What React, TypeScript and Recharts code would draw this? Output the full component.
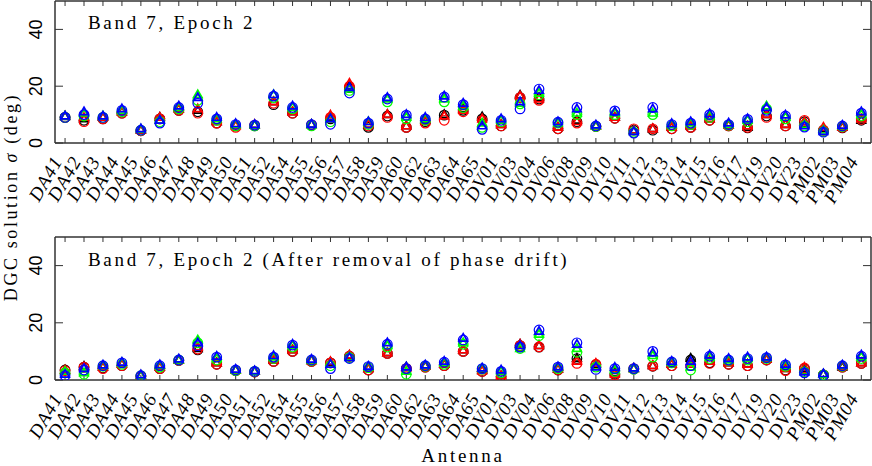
import React from 'react';
import { ScatterChart, Scatter, XAxis, YAxis } from 'recharts';

const antennas = [
  'DA41', 'DA42', 'DA43', 'DA44', 'DA45', 'DA46', 'DA47', 'DA48', 'DA49', 'DA50', 'DA51',
  'DA52', 'DA54', 'DA55', 'DA56', 'DA57', 'DA58', 'DA59', 'DA60', 'DA62', 'DA63', 'DA64',
  'DA65', 'DV01', 'DV03', 'DV04', 'DV06', 'DV08', 'DV09', 'DV10', 'DV11', 'DV12', 'DV13',
  'DV14', 'DV15', 'DV16', 'DV17', 'DV19', 'DV20', 'DV23', 'PM02', 'PM03', 'PM04',
];
const yTicks = [0, 20, 40];

// panel 1: Band 7, Epoch 2
const blueTri1 = [9.5, 11, 9.5, 12, 5, 8, 13, 16, 9, 6.8, 6.5, 17, 13, 6.6, 8.5, 19.5, 7.5, 16, 10, 9, 16.5, 14, 6, 8.5, 14.5, 18.5, 7.5, 12, 6.3, 11, 4, 12, 6.8, 7.5, 10.3, 7, 8.5, 12.5, 9.8, 6, 4, 6.2, 11];
const blueCirc1 = [9, 10, 9, 11.5, 4.5, 7, 12.5, 14, 8.5, 6.5, 6.3, 16.5, 12.5, 6.5, 6.6, 17.6, 7, 15.5, 9.8, 8.5, 16.2, 13.5, 4.8, 8, 12, 19, 7.3, 12.5, 6, 11.3, 3.5, 12.5, 6.5, 7, 10, 6.5, 8.3, 11.5, 9.5, 5.6, 3.8, 6, 10.5];
const greenTri1 = [9.5, 10.5, 9.5, 11.5, 4.8, 8, 12.5, 17, 8.5, 6.5, 6.3, 17, 12.5, 6.5, 8.5, 19, 7.5, 15.5, 9, 8.5, 15.5, 13, 7, 8, 14, 17.5, 7, 10.5, 6, 10.5, 4, 10.5, 6.5, 7, 9.5, 6.5, 8, 13, 9, 6.5, 4.5, 6, 10];
const greenCirc1 = [9, 9.5, 9, 11, 4.5, 7.5, 12, 15, 8, 6, 6, 16, 12, 6, 7.5, 18.5, 6.5, 14.5, 8.5, 8, 14.5, 12.5, 5.5, 7.5, 13.8, 17, 7, 10, 5.8, 10, 3.8, 10, 6, 6.5, 9, 6.3, 7.5, 12, 8.5, 6, 4, 5.8, 9.5];
const redTri1 = [9.5, 9, 9, 11, 4.5, 9, 12, 12, 7.5, 6, 6.5, 14.5, 11, 6.5, 9.8, 21, 6.5, 10, 6, 7.5, 9.5, 11.5, 8.5, 6.5, 16.5, 15.5, 5.5, 7.5, 6, 9, 4.5, 5, 5.5, 6, 8.5, 6.2, 6, 10, 6.5, 7.5, 5.5, 5.5, 8.5];
const redCirc1 = [9, 7.5, 8.5, 10.5, 4.3, 8.5, 11.5, 10.5, 7, 5.5, 6.2, 14, 10.5, 6.3, 9, 20, 6, 9, 5.5, 7, 8, 11, 8, 6, 16, 15, 5, 7, 5.8, 8.7, 5, 5, 5, 5.5, 8, 6, 5.5, 9, 6, 8, 4.5, 5.5, 8.3];
const blackTri1 = [9.3, 8.5, 9, 11, 4.5, 9, 12, 11.5, 7.5, 6.5, 6.3, 14.5, 11, 6.5, 9, 20, 6.5, 10, 6, 8, 10, 12, 9.2, 6.5, 16.8, 16, 5.5, 8, 6, 9, 4.5, 5, 5.5, 6, 8.5, 6.3, 5.5, 10, 6.5, 7.5, 5, 5.5, 8];
const blackCirc1 = [9, 8, 8.5, 10.5, 4.3, 8.5, 11.5, 11, 7, 6, 6, 13.5, 10.5, 6.2, 8.5, 19.5, 5.5, 9.5, 5.5, 7.5, 9.8, 11.5, 8.5, 6, 16, 15.5, 5, 7.5, 5.8, 8.7, 4.5, 4.5, 5, 5.5, 8, 6, 5.3, 9.5, 6, 7.5, 4.5, 5.3, 8];

// panel 2: after removal of phase drift
const blueTri2 = [2, 4, 5.2, 6.2, 1.8, 5.3, 7.3, 13, 8.3, 3.7, 3.2, 8.5, 12.5, 7.2, 5.5, 7.8, 4.8, 13, 4.5, 5.2, 6.5, 14.6, 4.2, 3.5, 12, 17, 4.6, 12.5, 4.5, 4.4, 4.2, 9.5, 6.5, 6.5, 8.7, 7.5, 8, 8, 5.5, 2.8, 2.2, 5.2, 8.7];
const blueCirc2 = [1.5, 3.5, 5, 6, 1.5, 5, 7, 12, 8, 3.5, 3, 8, 12.2, 7, 4, 7.5, 4.7, 12.5, 4, 5, 6.2, 14, 4, 3, 11.5, 17.5, 4.5, 13, 3.7, 4, 4, 10, 6.3, 5, 8.3, 7, 7.5, 7.8, 5.3, 2.5, 1.5, 5, 8.3];
const greenTri2 = [3, 2.5, 5, 6, 1.5, 5, 7, 14, 7.5, 3.5, 3, 8, 12, 7, 5.5, 8, 4.5, 12, 3, 5, 6, 13, 4, 3, 11, 16, 4.3, 11, 4.8, 3.5, 4, 8.5, 6.2, 4.5, 8, 7, 7.5, 7.8, 5, 3, 2, 5, 8];
const greenCirc2 = [2.5, 2, 4.8, 5.5, 1.5, 4.5, 7, 13, 7, 3.3, 3, 7.5, 11.5, 6.8, 5, 7.8, 4.3, 11.5, 2, 4.8, 5.5, 12.5, 3.8, 2.5, 11, 15.5, 4, 9.7, 4.5, 3, 3.8, 8, 6, 3.5, 7.5, 6.8, 7, 7.5, 4.8, 2.8, 1.8, 4.8, 7.5];
const redTri2 = [3.5, 4.5, 4.5, 5.5, 1.5, 4.5, 7, 11.5, 6, 3.5, 3, 7, 10.5, 6.8, 6.4, 8.7, 4, 9.5, 4.2, 4.8, 5.5, 10.5, 3.2, 1.5, 12.5, 12, 3.8, 6.5, 5.8, 2, 4, 5, 5.5, 5.5, 6.5, 6, 5.5, 7.2, 4, 4.4, 2, 4.8, 6];
const redCirc2 = [3.3, 4.5, 4, 5, 1.3, 4, 6.8, 10.8, 5.5, 3.3, 2.8, 6.5, 10, 6.5, 6, 8.3, 3.5, 9.3, 4, 4.5, 5, 10, 3, 1, 12, 11.6, 3.5, 5.8, 5.5, 1.7, 4, 4.9, 5, 5, 5.8, 5.5, 5, 7, 3.3, 4.2, 1.8, 4.5, 5.8];
const blackTri2 = [3.5, 4.8, 4.5, 5.5, 1.5, 4.5, 7, 11, 6, 3.5, 3, 7, 10.5, 6.8, 6.2, 8.5, 4, 9.5, 4.5, 4.8, 5.5, 10.5, 3.5, 1.5, 12.5, 12, 3.8, 7.6, 5.5, 2.5, 4, 5, 5.5, 7.6, 6.5, 6, 5.5, 7.2, 4, 4, 2, 4.5, 6];
const blackCirc2 = [3.5, 4.5, 4.2, 5, 1.3, 4, 6.8, 10.5, 5.5, 3.3, 2.8, 6.5, 10, 6.5, 6, 8.3, 3.5, 9.3, 4, 4.5, 5, 10, 3, 1.2, 12, 11.5, 3.5, 7.5, 5.3, 2, 3.8, 4.8, 5, 7, 6, 5.5, 5, 7, 3.5, 4, 1.8, 4.5, 5.8];

const AX = '#333';
const SERIF = '"Liberation Serif", serif';

const toPts = (vals: number[]) => vals.map((v, i) => ({ x: i, y: v }));

const circleShape = (color: string) => (p: any) => (
  <circle cx={p.cx} cy={p.cy} r={4.8} fill="none" stroke={color} strokeWidth={1.2} />
);
const triShape = (color: string) => (p: any) => (
  <path
    d={`M${p.cx},${p.cy - 4.6} L${p.cx + 4.2},${p.cy + 2.8} L${p.cx - 4.2},${p.cy + 2.8} Z`}
    fill="none"
    stroke={color}
    strokeWidth={1.7}
  />
);

const Empty = () => <g />;

function Panel({ height, mTop, mBottom, series }: any) {
  const plotBottom = height - mBottom;
  const XTick = (p: any) => {
    const x = p.x - 2;
    const y = plotBottom + 18;
    return (
      <text x={x} y={y} transform={`rotate(-60, ${x}, ${y})`} textAnchor="end"
        fontFamily={SERIF} fontStyle="italic" fontSize={19} letterSpacing={1} fill="#000">
        {antennas[p.payload.value]}
      </text>
    );
  };
  const YTick = (p: any) => (
    <text x={42} y={p.y} transform={`rotate(-90, 42, ${p.y})`} textAnchor="middle"
      fontFamily='"Liberation Sans", sans-serif' fontSize={18} fill="#000">
      {p.payload.value}
    </text>
  );
  const idx = antennas.map((_, i) => i);
  return (
    <ScatterChart width={872} height={height} margin={{ top: mTop, right: 1, left: 55, bottom: mBottom }}>
      <XAxis dataKey="x" type="number" domain={[-0.53, 42.51]} ticks={idx} interval={0} mirror
        allowDataOverflow tickSize={5} stroke={AX} axisLine={{ stroke: AX, strokeWidth: 1.5 }}
        tickLine={{ stroke: AX }} tick={XTick} />
      <XAxis xAxisId="t" orientation="top" dataKey="x" type="number" domain={[-0.53, 42.51]} ticks={idx}
        interval={0} mirror allowDataOverflow tickSize={5} axisLine={{ stroke: AX, strokeWidth: 1.5 }}
        tickLine={{ stroke: AX }} tick={Empty} />
      <YAxis dataKey="y" type="number" domain={[0, 50]} ticks={yTicks} interval={0} mirror
        allowDataOverflow tickSize={8} axisLine={{ stroke: AX, strokeWidth: 1.5 }}
        tickLine={{ stroke: AX }} tick={YTick} />
      <YAxis yAxisId="r" orientation="right" dataKey="y" type="number" domain={[0, 50]} ticks={yTicks}
        interval={0} mirror allowDataOverflow tickSize={8} axisLine={{ stroke: AX, strokeWidth: 1.5 }}
        tickLine={{ stroke: AX }} tick={Empty} />
      {series.map((s: any, k: number) => (
        <Scatter key={k} data={toPts(s.vals)} isAnimationActive={false}
          shape={s.tri ? triShape(s.color) : circleShape(s.color)} />
      ))}
    </ScatterChart>
  );
}

const series1 = [
  { vals: blackCirc1, color: '#000', tri: false },
  { vals: blackTri1, color: '#000', tri: true },
  { vals: redCirc1, color: '#ff0000', tri: false },
  { vals: redTri1, color: '#ff0000', tri: true },
  { vals: greenCirc1, color: '#00ff00', tri: false },
  { vals: greenTri1, color: '#00ff00', tri: true },
  { vals: blueCirc1, color: '#0000ff', tri: false },
  { vals: blueTri1, color: '#0000ff', tri: true },
];
const series2 = [
  { vals: blackCirc2, color: '#000', tri: false },
  { vals: blackTri2, color: '#000', tri: true },
  { vals: redCirc2, color: '#ff0000', tri: false },
  { vals: redTri2, color: '#ff0000', tri: true },
  { vals: greenCirc2, color: '#00ff00', tri: false },
  { vals: greenTri2, color: '#00ff00', tri: true },
  { vals: blueCirc2, color: '#0000ff', tri: false },
  { vals: blueTri2, color: '#0000ff', tri: true },
];

export default function App() {
  const txt = { fontFamily: SERIF, fontSize: 19, letterSpacing: 2.7, fill: '#000' } as any;
  return (
    <div style={{ position: 'absolute', left: 0, top: 0, width: 872, height: 466, background: '#fff', overflow: 'hidden' }}>
      <div style={{ position: 'absolute', left: 0, top: 0 }}>
        <Panel height={230} mTop={1} mBottom={87} series={series1} />
      </div>
      <div style={{ position: 'absolute', left: 0, top: 230 }}>
        <Panel height={236} mTop={7} mBottom={86} series={series2} />
      </div>
      <svg width={872} height={466} style={{ position: 'absolute', left: 0, top: 0, pointerEvents: 'none' }}>
        <text x={88} y={29} {...txt}>Band 7, Epoch 2</text>
        <text x={88} y={266} {...txt}>Band 7, Epoch 2 (After removal of phase drift)</text>
        <text x={463} y={462} textAnchor="middle" {...txt}>Antenna</text>
        <text x={17} y={197} transform="rotate(-90, 17, 197)" textAnchor="middle" {...txt} fontSize={18} letterSpacing={2.6}>
          DGC solution <tspan fontStyle="italic">σ</tspan> (deg)
        </text>
      </svg>
    </div>
  );
}
